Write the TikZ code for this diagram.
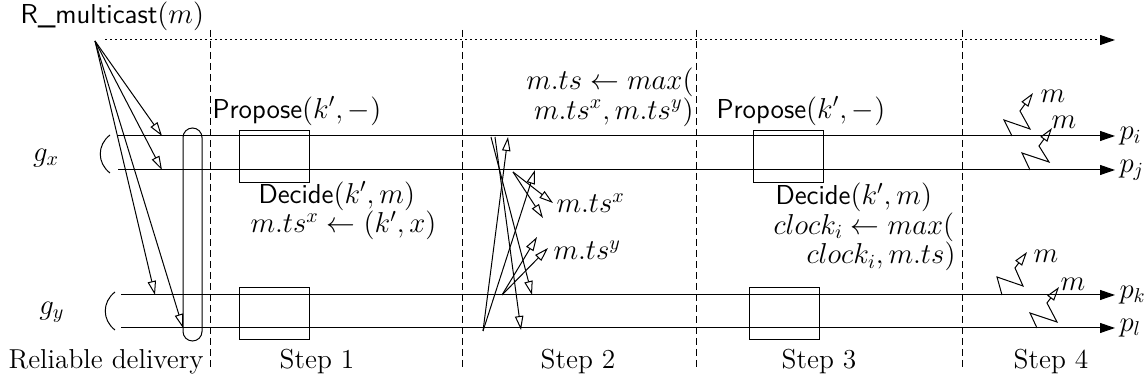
\documentclass[tikz,border=0pt]{standalone}
\usepackage{fontspec}
\usetikzlibrary{arrows.meta}
\begin{document}
\begin{tikzpicture}[x=0.5pt,y=-0.5pt,line width=0.5pt,
  font=\fontsize{13.7}{16}\selectfont,
  proc/.style={-{Triangle[length=7.5pt,width=5pt]}},
  msg/.style={-{Triangle[open,length=7pt,width=4.2pt]}},
  sepline/.style={dash pattern=on 3.5pt off 2pt},
  dotline/.style={dash pattern=on 1.2pt off 1.3pt},
  pbox/.style={draw,minimum width=35pt,minimum height=26pt,inner sep=0pt},
  lbl/.style={inner sep=0pt},
  multi/.style={inner sep=0pt,font=\fontsize{13.7}{14.75}\selectfont}]
\useasboundingbox (0,0) rectangle (1148,383);

% process lines
\coordinate (pi0) at (118,136); \coordinate (pi1) at (1115,136);
\coordinate (pj0) at (118,170); \coordinate (pj1) at (1115,170);
\coordinate (pk0) at (121,295); \coordinate (pk1) at (1115,295);
\coordinate (pl0) at (121,328); \coordinate (pl1) at (1115,328);
\draw[proc] (pi0) -- (pi1);
\draw[proc] (pj0) -- (pj1);
\draw[proc] (pk0) -- (pk1);
\draw[proc] (pl0) -- (pl1);
\node[anchor=west,inner sep=2pt] (lpi) at (pi1) {$p_i$};
\node[anchor=west,inner sep=2pt] (lpj) at (pj1) {$p_j$};
\node[anchor=west,inner sep=2pt] (lpk) at (pk1) {$p_k$};
\node[anchor=west,inner sep=2pt] (lpl) at (pl1) {$p_l$};

% groups
\draw (110,135) .. controls (97,145) and (97,163) .. (110,173);
\draw (115,292) .. controls (102,302) and (102,320) .. (115,330);
\node (gx) at (46,158) {$g_x$};
\node (gy) at (52,312) {$g_y$};

% top multicast line
\coordinate (src) at (95,41);
\coordinate (t0) at (105,40); \coordinate (t1) at (1115,40);
\draw[dotline,proc] (t0) -- (t1);
\node[lbl,anchor=west] (rm) at (20,16) {\textsf{R\_multicast}$(m)$};

% step separators
\foreach \x/\n in {210/s1,462/s2,696/s3,962/s4}{
  \coordinate (\n a) at (\x,30); \coordinate (\n b) at (\x,367);
  \draw[sepline] (\n a) -- (\n b);
}

% reliable delivery
\coordinate (ri) at (162,136); \coordinate (rj) at (162,170);
\coordinate (rk) at (155,295); \coordinate (rl) at (183,328);
\draw[msg] (src) -- (ri);
\draw[msg] (src) -- (rj);
\draw[msg] (src) -- (rk);
\draw[msg] (src) -- (rl);
\draw[rounded corners=4.75pt] (183,128) rectangle (202,341);

% step 1
\node[pbox] (b1t) at (274,156.5) {};
\node[pbox] (b1b) at (274.5,314) {};
\node[lbl,anchor=west] (prop1) at (212,111) {\textsf{Propose}$(k',-)$};
\node[multi,anchor=west,align=left] (dec1) at (250,211)
  {\hspace{4pt}\textsf{Decide}$(k',m)$\\ $m.ts^x\leftarrow(k',x)$};

% step 2
\node[multi,anchor=east,align=right] (mx) at (694,97.5)
  {$m.ts\leftarrow max($\\ $m.ts^x,m.ts^y)$};
\coordinate (a1s) at (491,137); \coordinate (a1e) at (532,295);
\coordinate (a2s) at (495,137); \coordinate (a2e) at (521,330);
\coordinate (a3s) at (483,331); \coordinate (a3e) at (508,137);
\coordinate (a4e) at (535,170);
\coordinate (a5s) at (513,172); \coordinate (a5e) at (553,203); \coordinate (a6e) at (543,218);
\coordinate (a7s) at (502,295); \coordinate (a7e) at (537,237); \coordinate (a8e) at (548,248);
\draw[msg] (a1s) -- (a1e);
\draw[msg] (a2s) -- (a2e);
\draw[msg] (a3s) -- (a3e);
\draw[msg] (a3s) -- (a4e);
\draw[msg] (a5s) -- (a5e);
\draw[msg] (a5s) -- (a6e);
\draw[msg] (a7s) -- (a7e);
\draw[msg] (a7s) -- (a8e);
\node[lbl,anchor=west] (tsx) at (556,203) {$m.ts^x$};
\node[lbl,anchor=west] (tsy) at (553,250) {$m.ts^y$};

% step 3
\node[pbox] (b3t) at (788,157) {};
\node[pbox] (b3b) at (784,313.5) {};
\node[lbl,anchor=west] (prop3) at (716,111) {\textsf{Propose}$(k',-)$};
\node[multi,anchor=west,align=left] (dec3) at (773,227)
  {\hspace{1pt}\textsf{Decide}$(k',m)$\\ $clock_i\leftarrow max($\\ \hspace{16.5pt}$clock_i,m.ts)$};

% step 4
\draw[msg] (1012,136) -- (1004,120) -- (1030,129) -- (1020,111) -- (1033,93);
\draw[msg] (1030,170) -- (1022,153) -- (1049,162) -- (1039,146) -- (1052,128);
\draw[msg] (1002,295) -- (997,277) -- (1023,286) -- (1015,268) -- (1027,252);
\draw[msg] (1037,328) -- (1030,313) -- (1057,322) -- (1047,303) -- (1059,287);
\node[lbl] (m1) at (1053,96) {$m$};
\node[lbl] (m2) at (1064,122) {$m$};
\node[lbl] (m3) at (1046,256) {$m$};
\node[lbl] (m4) at (1073,284) {$m$};

% step labels
\node[lbl] (st0) at (106,362) {Reliable delivery};
\node[lbl] (st1) at (317,362) {Step 1};
\node[lbl] (st2) at (578,362) {Step 2};
\node[lbl] (st3) at (819,362) {Step 3};
\node[lbl] (st4) at (1051,362) {Step 4};
\end{tikzpicture}
\end{document}
